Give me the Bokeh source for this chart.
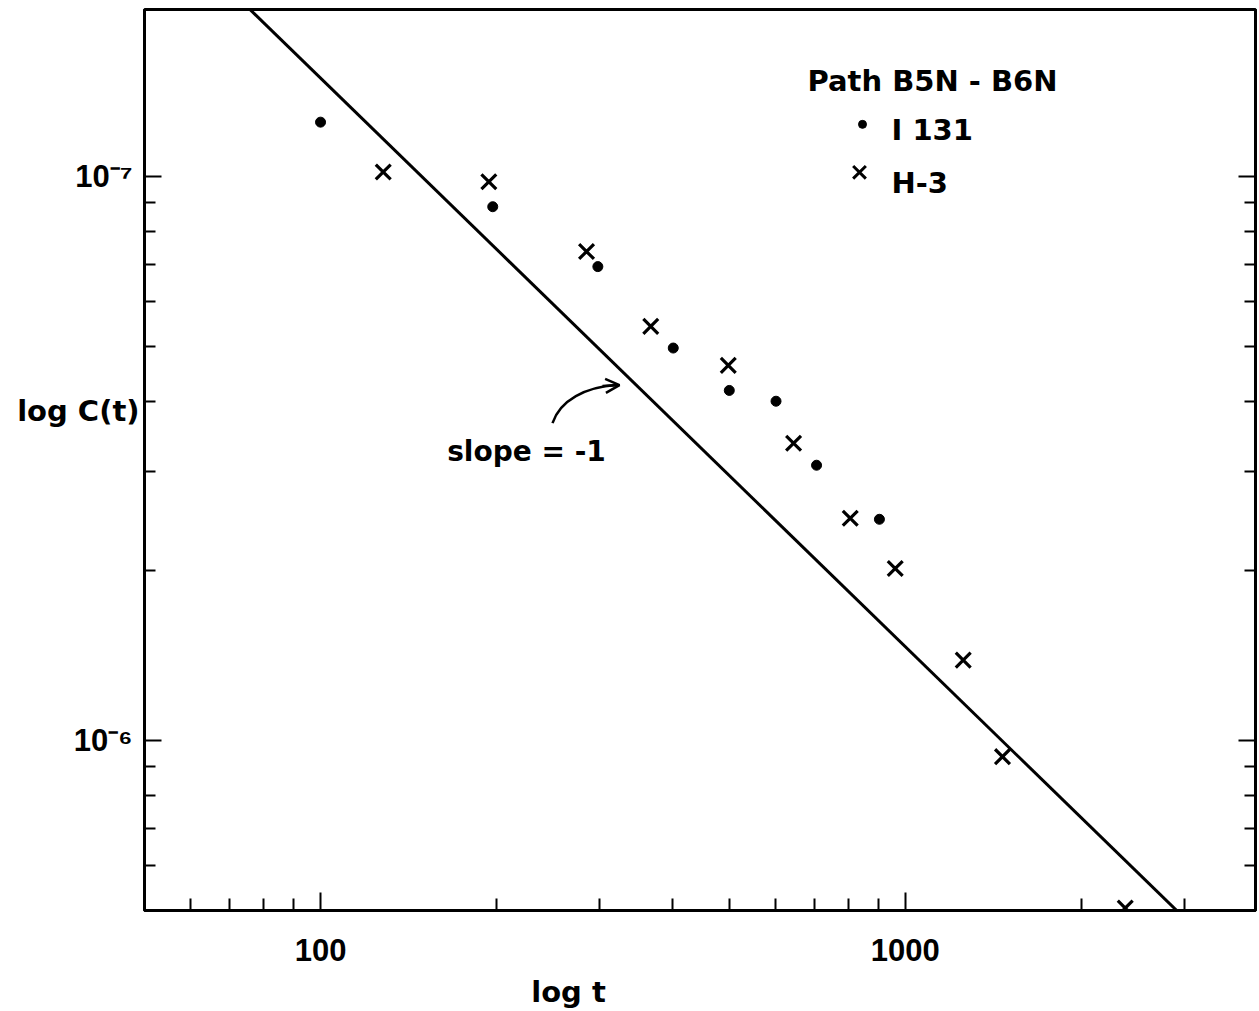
import json
import math
from bokeh.plotting import figure
from bokeh.models import Range1d, FixedTicker, LogAxis, CustomJSTickFormatter, Arrow, OpenHead, Label
from bokeh.embed import file_html
from bokeh.resources import INLINE

# ---------------- data ----------------
i131_t = [100, 197, 298, 401, 500, 601, 705, 903]
i131_c = [1.25e-7, 8.85e-8, 6.93e-8, 4.97e-8, 4.18e-8, 4.0e-8, 3.08e-8, 2.47e-8]

h3_t = [128, 194, 285, 367, 498, 644, 805, 961, 1256, 1466, 2377]
h3_c = [1.02e-7, 9.8e-8, 7.37e-8, 5.43e-8, 4.63e-8, 3.37e-8, 2.48e-8, 2.02e-8, 1.39e-8, 9.37e-9, 5.05e-9]

# slope = -1 reference line (endpoints)
fit_t = [75, 3000]
fit_c = [2.0e-7, 4.85e-9]

x_major = [100, 1000]
x_minor = [60, 70, 80, 90, 200, 300, 400, 500, 600, 700, 800, 900, 2000, 3000]
y_major = [1e-8, 1e-7]
y_major_labels = ["10\u207b\u2076", "10\u207b\u2077"]   # as printed on the original
y_minor = [5e-9, 6e-9, 7e-9, 8e-9, 9e-9,
           2e-8, 3e-8, 4e-8, 5e-8, 6e-8, 7e-8, 8e-8, 9e-8, 2e-7]

title_text = "Path B5N - B6N"
series_names = ["I 131", "H-3"]
x_title = "log t"
y_title = "log C(t)"

# ---------------- layout ----------------
X_RANGE = (50, 3970)
Y_RANGE = (5e-9, 1.98e-7)
FL, FR, FT, FB = 144, 1255, 9, 911
W, H = 1259, 1011

LX0, LX1 = math.log10(X_RANGE[0]), math.log10(X_RANGE[1])
LY0, LY1 = math.log10(Y_RANGE[0]), math.log10(Y_RANGE[1])


def px2t(px):
    return 10 ** (LX0 + (px - FL) / (FR - FL) * (LX1 - LX0))


def py2c(py):
    return 10 ** (LY1 - (py - FT) / (FB - FT) * (LY1 - LY0))


p = figure(width=W, height=H, x_axis_type="log", y_axis_type="log",
           x_range=Range1d(*X_RANGE), y_range=Range1d(*Y_RANGE),
           output_backend="svg", toolbar_location=None,
           min_border_left=FL, min_border_right=W - FR,
           min_border_top=FT, min_border_bottom=H - FB)
p.grid.visible = False
p.outline_line_color = "black"
p.outline_line_width = 3
p.background_fill_color = "white"
p.border_fill_color = "white"

TEXT_FONT = "DejaVu Sans"


def style_axis(a, major_in, minor_in):
    a.axis_line_width = 3
    a.major_tick_in = major_in
    a.major_tick_out = 0
    a.minor_tick_in = minor_in
    a.minor_tick_out = 0
    a.major_tick_line_width = 2
    a.minor_tick_line_width = 2


def title_axis(pos, text, standoff):
    a = LogAxis(ticker=FixedTicker(ticks=[pos], minor_ticks=[]),
                formatter=CustomJSTickFormatter(code="return %s;" % json.dumps(text)))
    a.axis_line_color = None
    a.major_tick_line_color = None
    a.minor_tick_line_color = None
    a.major_tick_in = 0
    a.major_tick_out = 0
    a.minor_tick_in = 0
    a.minor_tick_out = 0
    a.major_label_standoff = standoff
    a.major_label_text_font = TEXT_FONT
    a.major_label_text_font_style = "bold"
    a.major_label_text_font_size = "29px"
    a.major_label_text_color = "black"
    return a


# x axis (bottom)
xa = p.xaxis[0]
xa.ticker = FixedTicker(ticks=x_major, minor_ticks=x_minor)
xa.formatter = CustomJSTickFormatter(code="return tick.toFixed(0);")
style_axis(xa, 18, 12)
xa.major_label_text_font = "Liberation Sans"
xa.major_label_text_font_style = "bold"
xa.major_label_text_font_size = "31px"
xa.major_label_text_color = "black"
xa.major_label_standoff = 28

# x title, placed as the single label of an extra tickless bottom axis
p.add_layout(title_axis(px2t(568), x_title, 11), "below")

# y axis (left)
ycode = ("const v=%s; const l=%s;"
         "for (let i=0;i<v.length;i++){ if (Math.abs(Math.log10(tick)-Math.log10(v[i]))<1e-6) return l[i]; }"
         "return '';") % (json.dumps(y_major), json.dumps(y_major_labels, ensure_ascii=False))
ya = p.yaxis[0]
ya.ticker = FixedTicker(ticks=y_major, minor_ticks=y_minor)
ya.formatter = CustomJSTickFormatter(code=ycode)
style_axis(ya, 17, 11)
ya.major_label_text_font = "Liberation Sans"
ya.major_label_text_font_style = "bold"
ya.major_label_text_font_size = "31px"
ya.major_label_text_color = "black"
ya.major_label_standoff = 12

# horizontal y title, placed as the single label of an extra tickless left axis
p.add_layout(title_axis(py2c(411), y_title, -69), "left")

# y axis (right) - ticks only
ra = LogAxis(ticker=FixedTicker(ticks=y_major, minor_ticks=y_minor),
             formatter=CustomJSTickFormatter(code="return '';"))
style_axis(ra, 17, 11)
ra.major_label_standoff = 0
ra.major_label_text_font_size = "0px"
p.add_layout(ra, "right")

# slope line
p.line(fit_t, fit_c, line_color="black", line_width=3)

# data
p.scatter(i131_t, i131_c, marker="circle", size=10, fill_color="black", line_color="black")
p.scatter(h3_t, h3_c, marker="x", size=21, line_color="black", line_width=3.2)

# legend (hand-drawn as in the original)
p.scatter([px2t(862)], [py2c(124)], marker="circle", size=8, fill_color="black", line_color="black")
p.scatter([px2t(859)], [py2c(172)], marker="x", size=18, line_color="black", line_width=3)


def add_label(px, py, txt, size, align="left"):
    p.add_layout(Label(x=px2t(px), y=py2c(py), text=txt, text_font=TEXT_FONT,
                       text_font_style="bold", text_font_size=size, text_align=align,
                       text_baseline="alphabetic", text_color="black"))


add_label(807, 81, title_text, "29px")
add_label(891, 130, series_names[0], "29px")
add_label(891, 183, series_names[1], "29px")

# slope annotation
add_label(526, 451, "slope = -1", "28px", "center")
p.bezier(x0=[px2t(552)], y0=[py2c(423)], x1=[px2t(616)], y1=[py2c(385)],
         cx0=[px2t(560)], cy0=[py2c(400)], cx1=[px2t(585)], cy1=[py2c(387)],
         line_color="black", line_width=2.5)
p.add_layout(Arrow(end=OpenHead(size=14, line_width=2.5, line_color="black"),
                   x_start=px2t(602), y_start=py2c(386), x_end=px2t(619), y_end=py2c(385),
                   line_width=2.5, line_color="black"))

open("out.html", "w").write(file_html(p, INLINE))
